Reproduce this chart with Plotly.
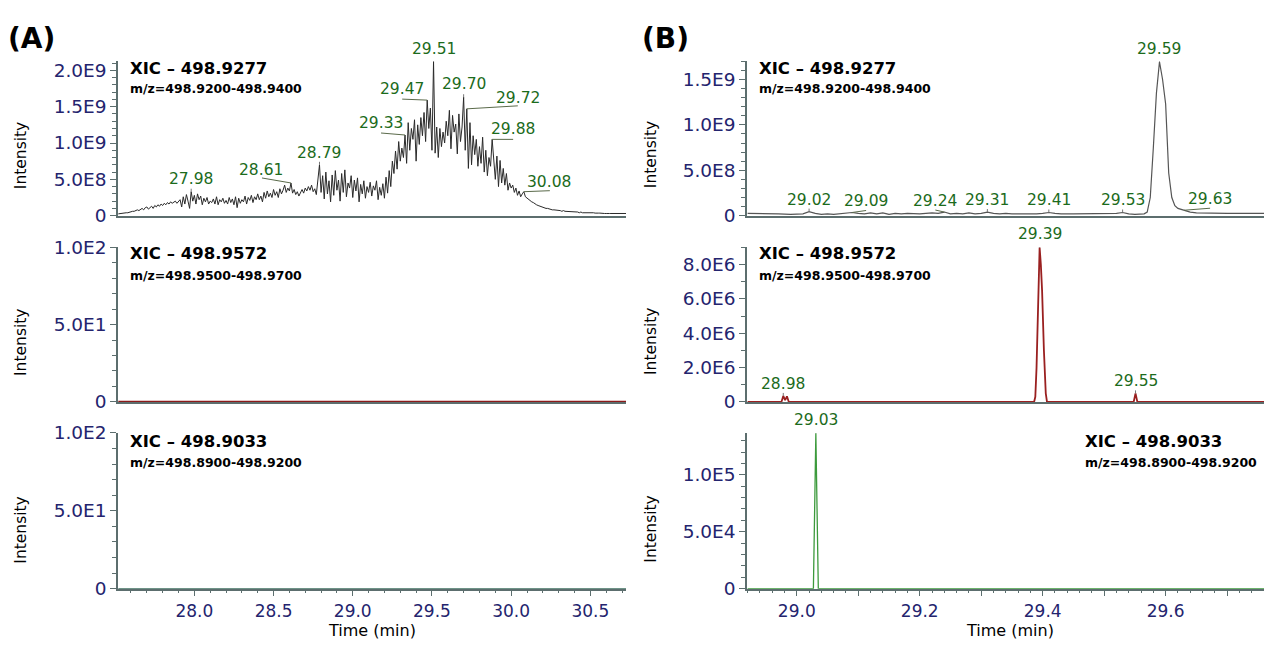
import numpy as np
import plotly.graph_objects as go

# ---------------- data ----------------
# (A) XIC 498.9277, sampled every 0.01 min from 27.52 min, intensity in 1E8
A1_TIME_START = 27.52
A1_TIME_STEP = 0.01
A1_INTENSITY_E8 = [
    0.25, 0.3, 0.3, 0.3, 0.35, 0.4, 0.4, 0.5,
    0.5, 0.6, 0.6, 0.7, 0.8, 0.7, 0.9, 1.0, 0.8, 1.1,
    1.2, 0.9, 1.1, 1.3, 1.0, 1.4, 1.2, 1.5, 1.3, 1.6,
    1.4, 1.7, 1.5, 1.8, 1.6, 1.9, 1.7, 1.8, 2.0, 1.7,
    1.9, 2.2, 1.2, 2.6, 1.6, 2.9, 2.0, 1.0, 3.3, 2.0,
    2.8, 1.6, 3.0, 2.2, 2.7, 1.5, 2.4, 1.9, 2.5, 1.6,
    2.0, 1.8, 2.3, 1.6, 2.6, 1.5, 2.2, 1.9, 2.4, 1.7,
    2.1, 1.6, 2.5, 1.8, 2.3, 1.5, 2.6, 1.1, 2.4, 1.7,
    2.2, 1.9, 2.7, 1.6, 2.5, 2.1, 2.8, 1.8, 2.6, 2.2,
    3.0, 2.2, 2.7, 1.9, 3.2, 2.4, 3.4, 2.6, 3.1, 2.5,
    3.6, 2.8, 3.3, 2.5, 3.7, 3.0, 3.5, 4.2, 3.2, 3.8,
    3.4, 4.5, 3.1, 3.6, 2.9, 3.3, 2.7, 3.2, 3.6, 3.1,
    3.8, 3.4, 4.0, 3.5, 4.2, 3.3, 3.7, 2.9, 4.6, 7.0,
    3.2, 5.5, 2.3, 6.0, 3.0, 4.8, 1.9, 5.6, 2.8, 6.2,
    3.5, 4.9, 2.0, 5.8, 3.2, 6.3, 2.6, 4.5, 3.8, 5.5,
    2.5, 4.9, 3.4, 5.2, 1.9, 4.3, 3.0, 4.8, 2.4, 4.0,
    3.2, 4.6, 2.7, 4.1, 3.5, 4.8, 2.2, 3.9, 2.8, 4.4,
    2.4, 5.3, 3.1, 6.2, 4.0, 7.5, 5.8, 8.9, 6.4, 10.2,
    7.5, 9.3, 8.0, 11.1, 7.2, 12.8, 9.0, 12.0, 10.5, 13.2,
    7.5, 12.5, 9.8, 13.5, 11.0, 14.2, 10.2, 15.9, 12.0, 14.8,
    9.0, 21.2, 8.6, 12.2, 8.0, 12.0, 9.5, 11.5, 10.0, 13.0,
    11.0, 14.5, 9.2, 13.8, 11.5, 12.6, 8.5, 14.0, 10.2, 12.2,
    16.3, 9.0, 14.7, 6.5, 12.8, 7.0, 11.0, 8.4, 10.5, 6.8,
    9.5, 7.2, 10.8, 6.0, 9.0, 5.5, 8.0, 6.8, 10.5, 7.5,
    5.0, 8.2, 4.0, 7.6, 4.5, 6.5, 4.2, 5.8, 3.5, 4.5,
    3.8, 4.2, 3.2, 3.8, 2.8, 3.4, 2.6, 3.0, 3.3, 2.6,
    2.4, 2.2, 2.0, 1.9, 1.8, 1.6, 1.5, 1.4, 1.3, 1.2,
    1.2, 1.1, 1.0, 1.0, 0.9, 0.9, 0.8, 0.8, 0.8, 0.7,
    0.7, 0.7, 0.6, 0.7, 0.6, 0.6, 0.5, 0.6, 0.5, 0.5,
    0.5, 0.5, 0.5, 0.4, 0.5, 0.4, 0.4, 0.5, 0.4, 0.4,
    0.4, 0.4, 0.4, 0.35, 0.4, 0.35, 0.35, 0.3, 0.35, 0.3,
    0.3, 0.35, 0.3, 0.3, 0.3, 0.35, 0.3, 0.3, 0.3, 0.3,
    0.3, 0.25, 0.3, 0.3,
]
A1_LABEL_TIMES = [27.98, 28.61, 28.79, 29.33, 29.47, 29.51, 29.70, 29.72, 29.88, 30.08]
A1_LABEL_TEXT = ["27.98", "28.61", "28.79", "29.33", "29.47", "29.51", "29.70", "29.72", "29.88", "30.08"]

# (A) XIC 498.9572 and 498.9033: no signal
A2_TIME = [27.52, 30.73]
A2_INTENSITY = [0, 0]
A3_TIME = [27.52, 30.73]
A3_INTENSITY = [0, 0]

# (B) XIC 498.9277, intensity in 1E8
B1_TIME = [28.92, 28.95, 28.97, 28.99, 29.00, 29.01, 29.02, 29.03, 29.04, 29.05,
           29.06, 29.07, 29.08, 29.09, 29.10, 29.11, 29.12, 29.13, 29.14, 29.15,
           29.16, 29.17, 29.18, 29.19, 29.20, 29.21, 29.22, 29.23, 29.24, 29.25,
           29.26, 29.27, 29.28, 29.29, 29.30, 29.31, 29.32, 29.33, 29.34, 29.35,
           29.36, 29.37, 29.38, 29.39, 29.40, 29.41, 29.42, 29.43, 29.45, 29.47,
           29.49, 29.51, 29.52, 29.53, 29.54, 29.55, 29.56, 29.565, 29.57, 29.575,
           29.58, 29.585, 29.59, 29.595, 29.60, 29.605, 29.61, 29.615, 29.62, 29.63,
           29.64, 29.65, 29.67, 29.70, 29.73, 29.76]
B1_INTENSITY_E8 = [0.25, 0.25, 0.2, 0.15, 0.15, 0.2, 0.45, 0.25, 0.15, 0.2,
                   0.15, 0.2, 0.25, 0.35, 0.25, 0.2, 0.3, 0.2, 0.3, 0.15,
                   0.25, 0.2, 0.25, 0.2, 0.2, 0.25, 0.3, 0.25, 0.4, 0.2,
                   0.25, 0.2, 0.3, 0.2, 0.25, 0.4, 0.25, 0.2, 0.25, 0.2,
                   0.2, 0.15, 0.2, 0.2, 0.25, 0.35, 0.25, 0.2, 0.2, 0.2,
                   0.2, 0.2, 0.25, 0.35, 0.2, 0.15, 0.15, 0.2, 0.4, 2.0,
                   7.5, 13.5, 16.95, 15.0, 12.3, 4.7, 2.0, 1.1, 0.8, 0.6,
                   0.4, 0.3, 0.25, 0.25, 0.25, 0.25]
B1_LABEL_TIMES = [29.02, 29.09, 29.24, 29.31, 29.41, 29.53, 29.59, 29.63]
B1_LABEL_TEXT = ["29.02", "29.09", "29.24", "29.31", "29.41", "29.53", "29.59", "29.63"]

# (B) XIC 498.9572, intensity in 1E6
B2_TIME = [28.92, 28.975, 28.978, 28.981, 28.984, 28.987, 29.386, 29.388, 29.390, 29.392,
           29.394, 29.395, 29.397, 29.399, 29.402, 29.405, 29.407, 29.548, 29.551, 29.554, 29.76]
B2_INTENSITY_E6 = [0, 0, 0.35, 0.1, 0.33, 0, 0, 0.3, 2.0, 4.8,
                   7.8, 9.0, 8.0, 6.5, 3.0, 0.5, 0, 0, 0.5, 0, 0]
B2_LABEL_TIMES = [28.978, 29.395, 29.551]
B2_LABEL_TEXT = ["28.98", "29.39", "29.55"]

# (B) XIC 498.9033, intensity in 1E4
B3_TIME = [28.92, 29.027, 29.031, 29.035, 29.76]
B3_INTENSITY_E4 = [0, 0, 13.65, 0, 0]
B3_LABEL_TIMES = [29.031]
B3_LABEL_TEXT = ["29.03"]

TITLES = ["XIC \u2013 498.9277", "XIC \u2013 498.9572", "XIC \u2013 498.9033"]
MZ_RANGES = ["m/z=498.9200-498.9400", "m/z=498.9500-498.9700", "m/z=498.8900-498.9200"]

A1_TICKS = [0, 5e8, 1e9, 1.5e9, 2e9]
A1_TICKTEXT = ["0", "5.0E8", "1.0E9", "1.5E9", "2.0E9"]
A23_TICKS = [0, 50, 100]
A23_TICKTEXT = ["0", "5.0E1", "1.0E2"]
B1_TICKS = [0, 5e8, 1e9, 1.5e9]
B1_TICKTEXT = ["0", "5.0E8", "1.0E9", "1.5E9"]
B2_TICKS = [0, 2e6, 4e6, 6e6, 8e6]
B2_TICKTEXT = ["0", "2.0E6", "4.0E6", "6.0E6", "8.0E6"]
B3_TICKS = [0, 5e4, 1e5]
B3_TICKTEXT = ["0", "5.0E4", "1.0E5"]
A_XTICKS = [28.0, 28.5, 29.0, 29.5, 30.0, 30.5]
A_XTICKTEXT = ["28.0", "28.5", "29.0", "29.5", "30.0", "30.5"]
B_XTICKS = [28.9, 29.0, 29.1, 29.2, 29.3, 29.4, 29.5, 29.6, 29.7]
B_XTICKTEXT = ["", "29.0", "", "29.2", "", "29.4", "", "29.6", ""]

# ---------------- styling ----------------
W, H = 1264, 650
FONT = "DejaVu Sans"
NAVY = "#24246e"
GREEN_TXT = "#1c6b1c"
AXIS = "#5c6e6e"
LEADER = "#5a6a4a"

def px(xp):
    return xp / W

def py(yp):
    return 1 - yp / H

XDOM_L = [px(118), px(626)]
XDOM_R = [px(747), 1.0]
YDOM = [[py(211.5), py(52)], [py(404), py(244)], [py(597), py(436)]]
XR_L = [27.518, 30.725]
XR_R = [28.919, 29.760]

a1_y = np.array(A1_INTENSITY_E8) * 1e8
a1_t = np.round(A1_TIME_START + A1_TIME_STEP * np.arange(len(a1_y)), 3)
b1_y = np.array(B1_INTENSITY_E8) * 1e8
b2_y = np.array(B2_INTENSITY_E6) * 1e6
b3_y = np.array(B3_INTENSITY_E4) * 1e4

fig = go.Figure()

def line(t, y, ax, color, width):
    fig.add_trace(go.Scatter(x=t, y=y, mode="lines", xaxis="x" + ax, yaxis="y" + ax,
                             line=dict(color=color, width=width), hoverinfo="skip",
                             cliponaxis=False, showlegend=False))

line(a1_t, a1_y, "", "#2a2a2a", 1)
line(B1_TIME, b1_y, "2", "#555555", 1.2)
line(A2_TIME, A2_INTENSITY, "3", "#8b1a1a", 2.6)
line(B2_TIME, b2_y, "4", "#9a2020", 1.8)
line(A3_TIME, A3_INTENSITY, "5", "#3f7060", 1.2)
line(B3_TIME, b3_y, "6", "#3c9a3c", 1.3)

def yaxis(dom, rng, ticks, text, minor, anchor):
    return dict(domain=dom, range=rng, anchor=anchor, showline=True, linecolor=AXIS,
                linewidth=1.5, ticks="outside", ticklen=6, tickwidth=1, tickcolor=AXIS,
                tickvals=ticks, ticktext=text, showgrid=False, zeroline=False,
                tickfont=dict(family=FONT, size=18.5, color=NAVY), fixedrange=True,
                minor=dict(ticks="outside", ticklen=4, tickwidth=1, tickcolor=AXIS,
                           tick0=0, dtick=minor, showgrid=False))

def xaxis(dom, rng, anchor, bottom=False, ticks=None, text=None, minor=None):
    d = dict(domain=dom, range=rng, anchor=anchor, showline=True, linecolor=AXIS,
             linewidth=1.5, showgrid=False, zeroline=False, fixedrange=True,
             layer="below traces")
    if bottom:
        d.update(ticks="outside", ticklen=6, tickwidth=1, tickcolor=AXIS,
                 tickvals=ticks, ticktext=text,
                 tickfont=dict(family=FONT, size=17, color=NAVY),
                 minor=dict(ticks="outside", ticklen=3, tickwidth=1, tickcolor=AXIS,
                            dtick=minor, showgrid=False))
    else:
        d.update(ticks="", showticklabels=False)
    return d

fig.update_layout(
    width=W, height=H, margin=dict(l=0, r=0, t=0, b=0),
    paper_bgcolor="white", plot_bgcolor="white", showlegend=False,
    xaxis=xaxis(XDOM_L, XR_L, "y"),
    yaxis=yaxis(YDOM[0], [0, 2.124e9], A1_TICKS, A1_TICKTEXT, 1e8, "x"),
    xaxis2=xaxis(XDOM_R, XR_R, "y2"),
    yaxis2=yaxis(YDOM[0], [0, 1.70e9], B1_TICKS, B1_TICKTEXT, 1e8, "x2"),
    xaxis3=xaxis(XDOM_L, XR_L, "y3"),
    yaxis3=yaxis(YDOM[1], [0, 100], A23_TICKS, A23_TICKTEXT, 10, "x3"),
    xaxis4=xaxis(XDOM_R, XR_R, "y4"),
    yaxis4=yaxis(YDOM[1], [0, 9.02e6], B2_TICKS, B2_TICKTEXT, 1e6, "x4"),
    xaxis5=xaxis(XDOM_L, XR_L, "y5", True, A_XTICKS, A_XTICKTEXT, 0.1),
    yaxis5=yaxis(YDOM[2], [0, 100], A23_TICKS, A23_TICKTEXT, 10, "x5"),
    xaxis6=xaxis(XDOM_R, XR_R, "y6", True, B_XTICKS, B_XTICKTEXT, 0.02),
    yaxis6=yaxis(YDOM[2], [0, 1.368e5], B3_TICKS, B3_TICKTEXT, 1e4, "x6"),
)

annotations = []
shapes = []

def peak_labels(ax, t_series, y_series, times, texts, offsets):
    for t, txt, (dx, dy, lx, ly) in zip(times, texts, offsets):
        v = float(np.interp(t, t_series, y_series))
        annotations.append(dict(x=t, y=v, xref="x" + ax, yref="y" + ax, text=txt,
                                showarrow=False, xanchor="center", yanchor="bottom",
                                xshift=dx, yshift=dy,
                                font=dict(family=FONT, size=15.5, color=GREEN_TXT)))
        direct = (lx == 0)
        shapes.append(dict(type="line", xref="x" + ax, yref="y" + ax,
                           xsizemode="pixel", ysizemode="pixel", xanchor=t, yanchor=v,
                           x0=0, y0=0, x1=lx, y1=ly,
                           line=dict(color="#777777" if direct else LEADER, width=1,
                                     dash="dot" if direct else "solid")))

# offsets: label dx, label dy, leader end dx, leader end dy  (pixels)
A1_OFFSETS = [(0, 2, 0, 5), (-30, 2, -29, 5), (0, 1, 0, 4), (-24, 1, -24, 2), (-25, 0, -25, 1),
              (0, 2, 0, 5), (0, 2, 0, 5), (51, 0, 51, 3), (21, -1, 21, 0), (25, -1, 26, 1)]
B1_OFFSETS = [(0, 1, 0, 4), (14, 0, 14, 2), (-9, 0, -9, 2), (0, 1, 0, 4), (0, 1, 0, 4),
              (0, 1, 0, 4), (0, 2, 0, 5), (26, 0, 26, 2)]
B2_OFFSETS = [(0, 1, 0, 4), (0, 2, 0, 5), (0, 1, 0, 4)]
B3_OFFSETS = [(0, 2, 0, 5)]

peak_labels("", a1_t, a1_y, A1_LABEL_TIMES, A1_LABEL_TEXT, A1_OFFSETS)
peak_labels("2", B1_TIME, b1_y, B1_LABEL_TIMES, B1_LABEL_TEXT, B1_OFFSETS)
peak_labels("4", B2_TIME, b2_y, B2_LABEL_TIMES, B2_LABEL_TEXT, B2_OFFSETS)
peak_labels("6", B3_TIME, b3_y, B3_LABEL_TIMES, B3_LABEL_TEXT, B3_OFFSETS)

def paper_text(xp, yp, text, size, color="black", xanchor="left", angle=0, bold=False):
    annotations.append(dict(x=px(xp), y=py(yp), xref="paper", yref="paper",
                            text=("<b>%s</b>" % text) if bold else text,
                            showarrow=False, xanchor=xanchor, yanchor="middle",
                            textangle=angle, font=dict(family=FONT, size=size, color=color)))

paper_text(6, 28, "(A)", 28, bold=True)
paper_text(640, 28, "(B)", 28, bold=True)

title_pos = [(128, 59, 80), (128, 251, 273), (128, 445, 467)]
title_pos_r = [(757, 59, 80), (757, 251, 273), (1083, 445, 467)]
for i in range(3):
    for (xp, yt, ym) in (title_pos[i], title_pos_r[i]):
        paper_text(xp, yt, TITLES[i], 16.5, bold=True)
        paper_text(xp, ym, MZ_RANGES[i], 12.5, bold=True)

for yc in (149, 342, 536):
    paper_text(21, yc, "Intensity", 15.5, xanchor="center", angle=-90)
    paper_text(651, yc, "Intensity", 15.5, xanchor="center", angle=-90)

paper_text(372, 640, "Time (min)", 16, xanchor="center")
paper_text(1010, 640, "Time (min)", 16, xanchor="center")

fig.update_layout(annotations=annotations, shapes=shapes)
# the page's default body margin would push the 1264x650 figure out of the window
fig.write_html("out.html", config={"displayModeBar": False},
               post_script="document.body.style.margin='0';document.body.style.overflow='hidden';")
